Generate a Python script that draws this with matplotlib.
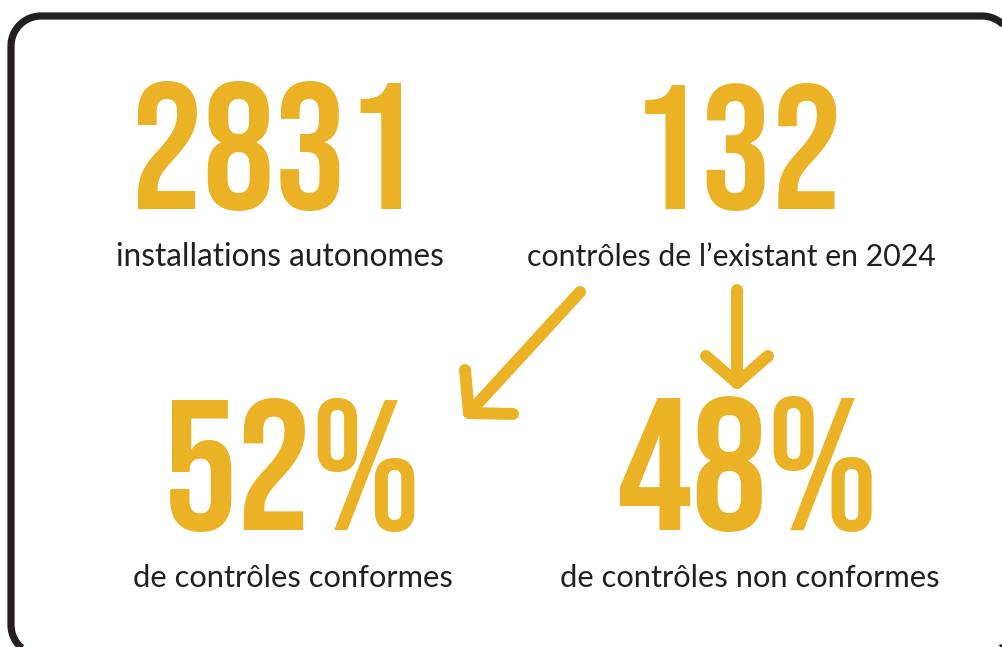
import matplotlib
matplotlib.use("Agg")
import numpy as np
import matplotlib.pyplot as plt
from matplotlib import font_manager
from matplotlib.path import Path
from matplotlib.patches import PathPatch

# valeurs de l'infographie
big_numbers = ["2831", "132", "52%", "48%"]
captions = [
    "installations autonomes",
    "contrôles de l’existant en 2024",
    "de contrôles conformes",
    "de contrôles non conformes",
]

yellow = "#EAB224"
dark = "#231F20"

fonts = font_manager.fontManager.ttflist


def pick(cands, weight=None):
    for c in cands:
        for f in fonts:
            if f.name == c and (weight is None or f.weight == weight):
                return c
    return "DejaVu Sans"


num_family = pick(["Bebas Neue", "Oswald", "League Gothic", "Fjalla One"])
cap_family = pick(["Source Sans Pro", "Source Sans 3", "Lato"], weight=400)

fig = plt.figure(figsize=(10.02, 6.47), dpi=100)
ax = fig.add_axes([0, 0, 1, 1])
ax.set_xlim(0, 1002)
ax.set_ylim(0, 647)
ax.axis("off")


def Y(y):
    # pixels comptes depuis le haut
    return 647 - y


# cadre arrondi, coupe a droite et en bas
x0, x1, y0, y1, rad = 11, 1012, 16, 655, 30
pts = []
for cx, cy, a0 in [(x0 + rad, y0 + rad, 180), (x1 - rad, y0 + rad, 270),
                   (x1 - rad, y1 - rad, 0), (x0 + rad, y1 - rad, 90)]:
    a = np.radians(np.linspace(a0, a0 + 90, 20))
    pts += [(cx + rad * np.cos(t), Y(cy + rad * np.sin(t))) for t in a]
pts.append(pts[0])
ax.add_patch(PathPatch(Path(pts), fill=False, edgecolor=dark, linewidth=5.2,
                       joinstyle="round", clip_on=False))

# emplacements : (gauche, droite, ligne de base)
num_boxes = [(137, 412, 209), (635, 838, 209), (168, 416, 530), (622, 873, 530)]
cap_boxes = [(116, 444, 266), (527, 936, 266), (133, 452, 587), (560, 940, 587)]

texts = []
for s, (a, b, yb) in zip(big_numbers, num_boxes):
    t = ax.text((a + b) / 2, Y(yb), s, ha="center", va="baseline", color=yellow,
                family=num_family, weight="bold", fontsize=100)
    texts.append((t, b - a, 1.045))
for s, (a, b, yb) in zip(captions, cap_boxes):
    t = ax.text((a + b) / 2, Y(yb), s, ha="center", va="baseline", color=dark,
                family=cap_family, weight="normal", fontsize=20)
    texts.append((t, b - a, 1.0))

# ajuster les tailles aux largeurs
for _ in range(2):
    fig.canvas.draw()
    r = fig.canvas.get_renderer()
    for t, w, k in texts:
        cur = t.get_window_extent(r).width
        t.set_fontsize(t.get_fontsize() * w / cur)
for t, w, k in texts:
    t.set_fontsize(t.get_fontsize() * k)

# fleches
arrow_kw = dict(color=yellow, linewidth=8.6, solid_capstyle="round", solid_joinstyle="round")
ax.plot([580, 469], [Y(292), Y(413)], **arrow_kw)
ax.plot([465, 469, 513], [Y(370), Y(413), Y(414)], **arrow_kw)
ax.plot([737, 737], [Y(290), Y(383)], **arrow_kw)
ax.plot([706, 737, 768], [Y(356), Y(383), Y(356)], **arrow_kw)

fig.savefig("out.png", dpi=100, facecolor="white")
